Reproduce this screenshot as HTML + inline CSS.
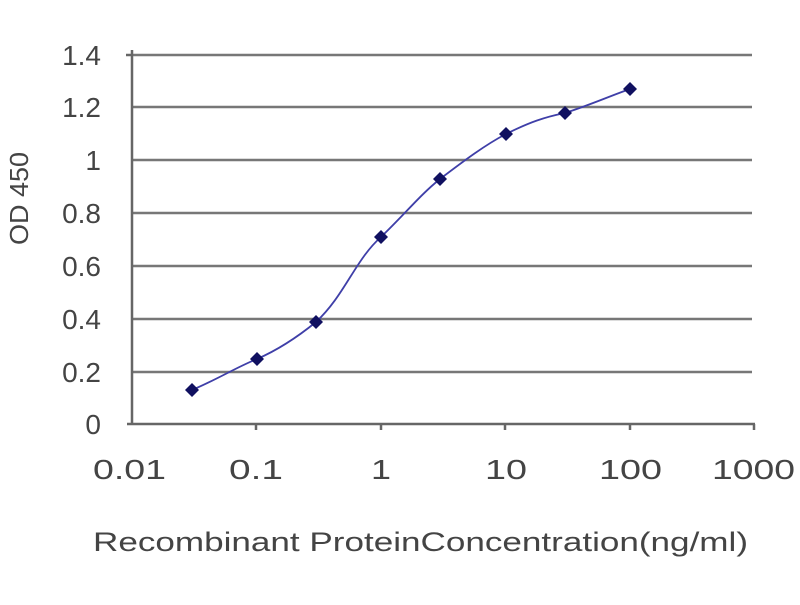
<!DOCTYPE html>
<html><head><style>body{margin:0;background:#fff}</style></head><body>
<svg width="800" height="600" xmlns="http://www.w3.org/2000/svg" font-family="Liberation Sans, sans-serif">
<rect width="800" height="600" fill="#fff"/>
<g stroke="#777" stroke-width="2.5">
<line x1="132" y1="55" x2="752" y2="55"/>
<line x1="132" y1="107" x2="752" y2="107"/>
<line x1="132" y1="160" x2="752" y2="160"/>
<line x1="132" y1="213" x2="752" y2="213"/>
<line x1="132" y1="266" x2="752" y2="266"/>
<line x1="132" y1="319" x2="752" y2="319"/>
<line x1="132" y1="372" x2="752" y2="372"/>
</g>
<g stroke="#666" stroke-width="2.5">
<line x1="132" y1="50" x2="132" y2="424"/>
<line x1="127" y1="424" x2="755" y2="424"/>
<line x1="126" y1="55" x2="132" y2="55"/>
<line x1="256" y1="424" x2="256" y2="430"/>
<line x1="381" y1="424" x2="381" y2="430"/>
<line x1="505" y1="424" x2="505" y2="430"/>
<line x1="630" y1="424" x2="630" y2="430"/>
<line x1="754" y1="424" x2="754" y2="430"/>
</g>
<g font-size="28" fill="#444" text-anchor="end">
<text x="101" y="65">1.4</text>
<text x="101" y="117">1.2</text>
<text x="101" y="170">1</text>
<text x="101" y="223">0.8</text>
<text x="101" y="276">0.6</text>
<text x="101" y="329">0.4</text>
<text x="101" y="382">0.2</text>
<text x="101" y="434">0</text>
</g>
<g font-size="28" fill="#444">
<text x="93" y="479" textLength="73" lengthAdjust="spacingAndGlyphs">0.01</text>
<text x="229" y="479" textLength="54" lengthAdjust="spacingAndGlyphs">0.1</text>
<text x="371" y="479" textLength="20" lengthAdjust="spacingAndGlyphs">1</text>
<text x="485" y="479" textLength="42" lengthAdjust="spacingAndGlyphs">10</text>
<text x="599" y="479" textLength="63" lengthAdjust="spacingAndGlyphs">100</text>
<text x="712" y="479" textLength="83" lengthAdjust="spacingAndGlyphs">1000</text>
<text x="93" y="551" font-size="27" textLength="655" lengthAdjust="spacingAndGlyphs">Recombinant ProteinConcentration(ng/ml)</text>
<text transform="translate(28,245) rotate(-90)" font-size="26" textLength="93" lengthAdjust="spacingAndGlyphs">OD 450</text>
</g>
<path d="M192,390 C220,378 235,368 257,359 C280,349 300,335 316,322 C345,295 355,260 381,237 C405,214 420,195 440,179 C465,160 485,145 506,134 C530,122 545,117 565,113 C590,105 610,96 630,89" fill="none" stroke="#3f3fa8" stroke-width="1.8"/>
<g fill="#101060">
<path d="M192,383l7,7-7,7-7-7z"/>
<path d="M257,352l7,7-7,7-7-7z"/>
<path d="M316,315l7,7-7,7-7-7z"/>
<path d="M381,230l7,7-7,7-7-7z"/>
<path d="M440,172l7,7-7,7-7-7z"/>
<path d="M506,127l7,7-7,7-7-7z"/>
<path d="M565,106l7,7-7,7-7-7z"/>
<path d="M630,82l7,7-7,7-7-7z"/>
</g>
</svg>
</body></html>
